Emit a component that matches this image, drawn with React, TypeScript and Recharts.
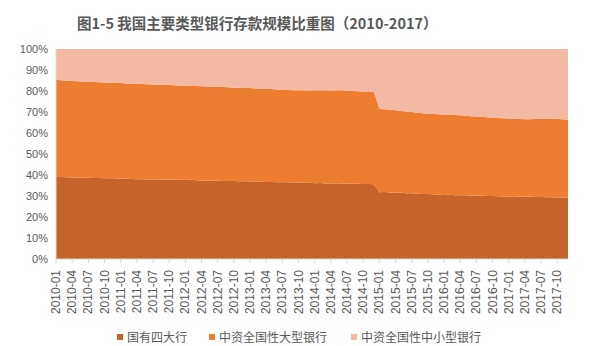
import React from "react";
import { Area, AreaChart, XAxis, YAxis } from "recharts";

// Monthly shares (%) of total deposits, 2010-01 .. 2017-12
const years = ["2010", "2011", "2012", "2013", "2014", "2015", "2016", "2017"];
const monthNums = ["01", "02", "03", "04", "05", "06", "07", "08", "09", "10", "11", "12"];

const bigFour = [
  39.1, 39.0, 38.9, 38.8, 38.8, 38.7, 38.7, 38.6, 38.6, 38.5, 38.5, 38.4,
  38.2, 38.3, 38.1, 38.0, 38.0, 37.9, 38.0, 37.9, 37.8, 37.8, 37.7, 37.7,
  37.6, 37.7, 37.5, 37.4, 37.4, 37.3, 37.3, 37.2, 37.1, 37.1, 37.0, 37.0,
  36.9, 37.0, 36.8, 36.7, 36.7, 36.6, 36.6, 36.5, 36.4, 36.4, 36.3, 36.3,
  36.1, 36.2, 36.0, 36.0, 36.1, 35.9, 35.9, 35.8, 35.8, 35.7, 35.7, 35.6,
  31.8, 31.9, 31.7, 31.6, 31.5, 31.3, 31.3, 31.1, 31.0, 30.9, 30.8, 30.6,
  30.5, 30.6, 30.4, 30.3, 30.3, 30.2, 30.2, 30.1, 30.0, 30.0, 29.9, 29.8,
  29.8, 29.9, 29.7, 29.6, 29.6, 29.5, 29.5, 29.4, 29.4, 29.3, 29.3, 29.2,
];

const largeBanks = [
  46.2, 46.1, 46.1, 46.0, 45.9, 45.8, 45.7, 45.7, 45.6, 45.5, 45.4, 45.4,
  45.6, 45.3, 45.4, 45.4, 45.3, 45.3, 45.1, 45.1, 45.1, 45.0, 45.0, 44.9,
  45.0, 44.8, 44.9, 44.9, 44.8, 44.8, 44.7, 44.7, 44.7, 44.5, 44.5, 44.4,
  44.5, 44.2, 44.2, 44.2, 44.2, 44.1, 44.0, 44.0, 44.0, 44.0, 44.0, 43.9,
  44.2, 44.2, 44.3, 44.2, 44.3, 44.4, 44.3, 44.2, 44.1, 44.1, 44.0, 44.0,
  39.6, 39.4, 39.4, 39.2, 39.0, 38.9, 38.7, 38.6, 38.4, 38.3, 38.2, 38.3,
  38.3, 38.1, 38.2, 38.1, 37.9, 37.8, 37.7, 37.6, 37.5, 37.3, 37.2, 37.2,
  37.1, 36.9, 37.0, 37.0, 37.0, 37.2, 37.3, 37.5, 37.4, 37.4, 37.2, 37.0,
];

const smallMidBanks = [
  14.7, 14.9, 15.0, 15.2, 15.3, 15.5, 15.6, 15.7, 15.8, 16.0, 16.1, 16.2,
  16.2, 16.4, 16.5, 16.6, 16.7, 16.8, 16.9, 17.0, 17.1, 17.2, 17.3, 17.4,
  17.4, 17.5, 17.6, 17.7, 17.8, 17.9, 18.0, 18.1, 18.2, 18.4, 18.5, 18.6,
  18.6, 18.8, 19.0, 19.1, 19.1, 19.3, 19.4, 19.5, 19.6, 19.6, 19.7, 19.8,
  19.7, 19.6, 19.7, 19.8, 19.6, 19.7, 19.8, 20.0, 20.1, 20.2, 20.3, 20.4,
  28.6, 28.7, 28.9, 29.2, 29.5, 29.8, 30.0, 30.3, 30.6, 30.8, 31.0, 31.1,
  31.2, 31.3, 31.4, 31.6, 31.8, 32.0, 32.1, 32.3, 32.5, 32.7, 32.9, 33.0,
  33.1, 33.2, 33.3, 33.4, 33.4, 33.3, 33.2, 33.1, 33.2, 33.3, 33.5, 33.8,
];

const seriesNames = ["国有四大行", "中资全国性大型银行", "中资全国性中小型银行"];
const seriesColors = ["#C4632A", "#ED7D31", "#F4B9A2"];
const yTicks = [0, 0.1, 0.2, 0.3, 0.4, 0.5, 0.6, 0.7, 0.8, 0.9, 1];

const months: string[] = [];
for (const y of years) for (const m of monthNums) months.push(`${y}-${m}`);

const data = months.map((month, i) => ({
  month,
  a: bigFour[i],
  b: largeBanks[i],
  c: smallMidBanks[i],
}));

const textColor = "#595959";
const font = "'Liberation Sans', 'Noto Sans CJK SC', sans-serif";

function MonthTick({ x, y, payload }: any) {
  return (
    <text
      x={x}
      y={y}
      transform={`rotate(-90, ${x}, ${y})`}
      dx={-5}
      dy={4}
      textAnchor="end"
      fill={textColor}
      fontSize={12}
      fontFamily={font}
    >
      {payload.value}
    </text>
  );
}

export default function App() {
  return (
    <div style={{ position: "absolute", left: 0, top: 0, width: 607, height: 346, background: "#fff", fontFamily: font }}>
      <div
        style={{
          position: "absolute",
          left: 77,
          top: 12,
          fontSize: 14.5,
          fontWeight: "bold",
          color: textColor,
          fontFamily: "'Noto Sans CJK SC', sans-serif",
          whiteSpace: "nowrap",
        }}
      >
        图1-5 我国主要类型银行存款规模比重图（2010-2017）
      </div>
      <AreaChart
        width={607}
        height={346}
        data={data}
        stackOffset="expand"
        margin={{ top: 49, right: 39, left: 0, bottom: 32 }}
      >
        <XAxis
          dataKey="month"
          interval={2}
          height={55}
          tick={<MonthTick />}
          axisLine={{ stroke: "#D9D9D9" }}
          tickLine={{ stroke: "#D9D9D9" }}
          tickSize={4}
        />
        <YAxis
          width={56}
          domain={[0, 1]}
          ticks={yTicks}
          tickFormatter={(v: number) => `${Math.round(v * 100)}%`}
          axisLine={{ stroke: "#D9D9D9" }}
          tickLine={false}
          tick={{ fill: textColor, fontSize: 11, fontFamily: font }}
        />
        {["a", "b", "c"].map((k, i) => (
          <Area
            key={k}
            dataKey={k}
            name={seriesNames[i]}
            stackId="1"
            type="linear"
            stroke="none"
            fill={seriesColors[i]}
            fillOpacity={1}
            isAnimationActive={false}
          />
        ))}
      </AreaChart>
      <div style={{ position: "absolute", top: 328, left: 0, width: 607, height: 18 }}>
        {seriesNames.map((n, i) => (
          <div
            key={n}
            style={{
              position: "absolute",
              left: [117, 209, 351][i],
              top: 0,
              display: "flex",
              alignItems: "center",
              fontSize: 12,
              color: textColor,
              fontFamily: "'Noto Sans CJK SC', sans-serif",
              whiteSpace: "nowrap",
            }}
          >
            <span style={{ display: "inline-block", width: 6, height: 6, background: seriesColors[i], marginRight: 4 }} />
            {n}
          </div>
        ))}
      </div>
    </div>
  );
}
